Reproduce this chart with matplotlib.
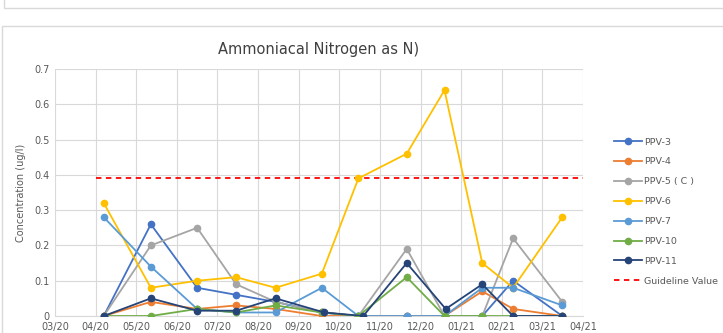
import matplotlib.pyplot as plt
from matplotlib.patches import Rectangle

# x positions in months counted from 03/20
sample_x = [1.2, 2.36, 3.5, 4.46, 5.43, 6.57, 7.47, 8.66, 9.59, 10.52, 11.28, 12.49]
sample_x_11 = [1.2, 2.36, 3.5, 4.46, 5.43, 6.63, 7.59, 8.66, 9.62, 10.52, 11.28, 12.49]
month_labels = ['03/20', '04/20', '05/20', '06/20', '07/20', '08/20', '09/20',
                '10/20', '11/20', '12/20', '01/21', '02/21', '03/21', '04/21']

ppv3 = [0, 0.26, 0.08, 0.06, 0.04, 0.01, 0, 0, 0, 0, 0.10, 0]
ppv4 = [0, 0.04, 0.02, 0.03, 0.02, 0, 0, 0, 0, 0.07, 0.02, 0]
ppv5 = [0, 0.20, 0.25, 0.09, 0.04, 0.01, 0, 0.19, 0, 0, 0.22, 0.04]
ppv6 = [0.32, 0.08, 0.10, 0.11, 0.08, 0.12, 0.39, 0.46, 0.64, 0.15, 0.08, 0.28]
ppv7 = [0.28, 0.14, 0.02, 0.01, 0.01, 0.08, 0, 0, 0, 0.08, 0.08, 0.03]
ppv10 = [0, 0, 0.02, 0.01, 0.03, 0.01, 0, 0.11, 0, 0, 0, 0]
ppv11 = [0, 0.05, 0.015, 0.015, 0.05, 0.01, 0, 0.15, 0.02, 0.09, 0, 0]
guideline = 0.39
guide_span = [1, 13]

series = [
    ('PPV-3', ppv3, sample_x, '#4472C4'),
    ('PPV-4', ppv4, sample_x, '#ED7D31'),
    ('PPV-5 ( C )', ppv5, sample_x, '#A5A5A5'),
    ('PPV-6', ppv6, sample_x, '#FFC000'),
    ('PPV-7', ppv7, sample_x, '#5B9BD5'),
    ('PPV-10', ppv10, sample_x, '#70AD47'),
    ('PPV-11', ppv11, sample_x_11, '#264478'),
]

fig = plt.figure(figsize=(7.23, 3.33), dpi=100)
ax = fig.add_axes([55 / 723, 17 / 333, 528 / 723, 247 / 333])

# chart frames
fig.patches.append(Rectangle((4 / 723, 325 / 333), 730 / 723, 20 / 333, transform=fig.transFigure,
                             fill=False, edgecolor='#D9D9D9', lw=1))
fig.patches.append(Rectangle((2 / 723, -5 / 333), 730 / 723, 312 / 333, transform=fig.transFigure,
                             fill=False, edgecolor='#D9D9D9', lw=1))

for name, vals, xs, col in series:
    ax.plot(xs, vals, '-o', color=col, lw=1.3, ms=4.5, label=name, zorder=3)
ax.plot(guide_span, [guideline, guideline], '--', color='#FF0000', lw=1.3,
        dashes=(3, 2.5), label='Guideline Value', zorder=2)

ax.set_xlim(0, 13)
ax.set_ylim(0, 0.7)
ax.set_xticks(range(14))
ax.set_xticklabels(month_labels)
ax.set_yticks([0, 0.1, 0.2, 0.3, 0.4, 0.5, 0.6, 0.7])
ax.set_yticklabels(['0', '0.1', '0.2', '0.3', '0.4', '0.5', '0.6', '0.7'])
ax.grid(True, color='#D9D9D9', lw=0.8)
ax.set_axisbelow(True)
for s in ['top', 'right', 'left']:
    ax.spines[s].set_visible(False)
ax.spines['bottom'].set_color('#D9D9D9')
ax.tick_params(length=0, labelsize=7, colors='#595959', pad=4)
ax.set_ylabel('Concentration (ug/l)', fontsize=7, color='#595959', labelpad=6)
ax.set_title('Ammoniacal Nitrogen as N)', fontsize=10.5, color='#404040', pad=11)

ax.legend(loc='center left', bbox_to_anchor=(1.059, 0.423), frameon=False, fontsize=6.8,
          labelcolor='#595959', handlelength=2.9, labelspacing=1.15, handletextpad=0.3,
          borderpad=0, borderaxespad=0)

fig.savefig('out.png', dpi=100)
